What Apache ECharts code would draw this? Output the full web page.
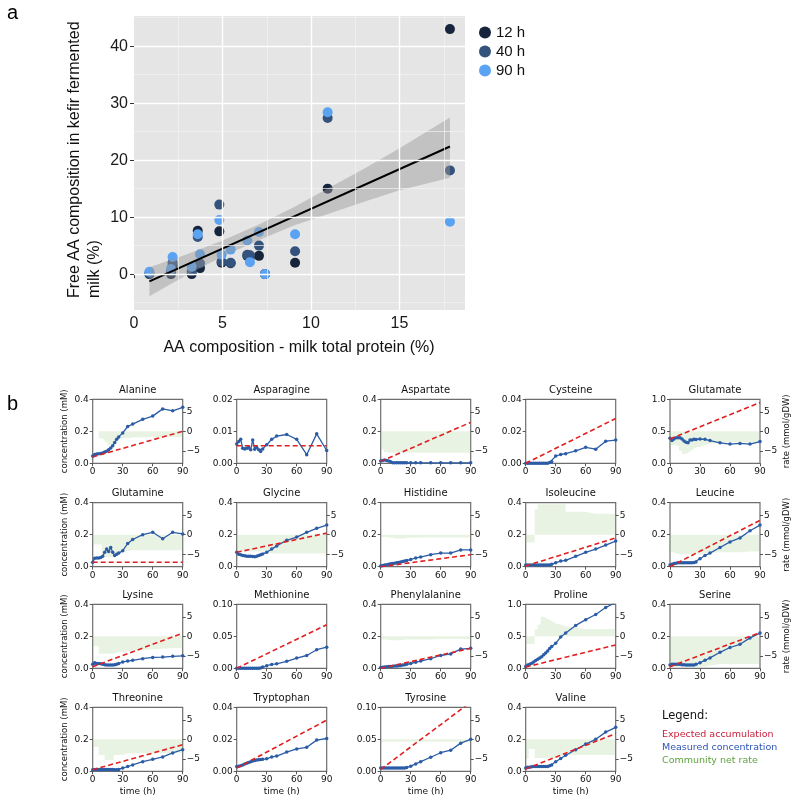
<!DOCTYPE html>
<html><head><meta charset="utf-8">
<script src="https://cdn.jsdelivr.net/npm/echarts@6/dist/echarts.min.js"></script>
<style>html,body{margin:0;padding:0;background:#fff}#c{width:800px;height:805px}</style>
</head><body><div id="c"></div>
<script>
// ---------- Panel a data ----------
const aaX   = [0.87, 2.09, 2.18, 3.26, 3.6, 3.73, 4.82, 4.95, 5.46, 6.4, 6.55, 7.06, 7.4, 9.1, 10.94, 17.85];
const y12h  = [0.0, 0.0, 1.5, 0.0, 7.6, 1.05, 7.5, 2.0, 1.9, 3.2, 3.0, 3.2, 0.0, 2.0, 15.0, 43.0];
const y40h  = [0.1, 0.5, 2.0, 0.5, 6.5, 1.9, 12.2, 2.2, 2.0, 3.4, 3.3, 5.0, 0.0, 4.0, 27.4, 18.2];
const y90h  = [0.4, 0.9, 3.0, 1.3, 7.0, 3.5, 9.5, 3.4, 4.3, 5.9, 2.1, 7.4, 0.0, 7.0, 28.4, 9.2];
const fitX  = [0.87, 17.85];
const fitY  = [-1.29, 22.4];
const bandX = [0.87, 3, 5, 7, 9, 11, 13, 15, 17.85];
const bandLow  = [-3.9, -0.1, 3.1, 5.9, 8.5, 10.6, 12.7, 14.7, 16.9];
const bandHigh = [1.2, 3.5, 5.9, 8.6, 11.7, 15.1, 18.5, 22.1, 27.5];
const annotX = [17.85, 17.85, 17.85, 10.94, 10.94, 7.4];
const annotY = [43.0, 18.2, 9.2, 28.4, 15.0, 0.0];
const annotText = ['Glu', 'Glu', 'Glu', 'Pro', 'Pro', 'Asp'];
const annotSide = ['bottom', 'bottom', 'bottom', 'top', 'top', 'bottom'];
const xTicksA = [0, 5, 10, 15];
const yTicksA = [0, 10, 20, 30, 40];
const gridMajorX = [5, 10, 15];
const gridMinorX = [2.5, 7.5, 12.5, 17.5];
const gridMajorY = [0, 10, 20, 30, 40];
const gridMinorY = [-5, 5, 15, 25, 35, 45];

// ---------- Panel b data ----------
const aminoAcids = ['Alanine','Asparagine','Aspartate','Cysteine','Glutamate','Glutamine','Glycine','Histidine','Isoleucine','Leucine','Lysine','Methionine','Phenylalanine','Proline','Serine','Threonine','Tryptophan','Tyrosine','Valine'];
const concMax = [0.4,0.02,0.4,0.04,1.0, 0.4,0.4,0.4,0.4,0.4, 0.4,0.1,0.4,1.0,0.4, 0.4,0.04,0.1,0.4];
const timeHours = [0,2,4,6,8,10,12,14,16,18,20,22,24,26,30,35,40,50,60,70,80,90];
const measured = [
 [0.045,0.055,0.058,0.06,0.062,0.065,0.07,0.075,0.085,0.095,0.11,0.13,0.15,0.165,0.19,0.23,0.245,0.275,0.295,0.34,0.328,0.35],
 [0.006,0.0068,0.0075,0.0047,0.0045,0.0047,0.005,0.0042,0.0073,0.0044,0.005,0.0042,0.0037,0.0045,0.0058,0.0075,0.0085,0.009,0.0075,0.0027,0.0092,0.004],
 [0.015,0.018,0.02,0.018,0.015,0.01,0.004,0.003,0.003,0.003,0.003,0.003,0.003,0.003,0.003,0.003,0.003,0.003,0.003,0.003,0.003,0.003],
 [0,0,0,0,0,0,0,0,0,0,0,0,0.0005,0.001,0.0045,0.0055,0.006,0.0078,0.01,0.0088,0.0138,0.0145],
 [0.39,0.355,0.38,0.40,0.40,0.40,0.38,0.35,0.33,0.32,0.365,0.365,0.375,0.37,0.38,0.375,0.355,0.32,0.30,0.31,0.30,0.34],
 [0.028,0.053,0.055,0.055,0.058,0.065,0.09,0.11,0.095,0.12,0.09,0.07,0.078,0.085,0.1,0.145,0.17,0.2,0.215,0.175,0.215,0.205],
 [0.09,0.078,0.075,0.07,0.068,0.065,0.066,0.065,0.063,0.062,0.065,0.07,0.075,0.08,0.09,0.11,0.13,0.165,0.185,0.215,0.24,0.26],
 [0.005,0.008,0.01,0.012,0.015,0.018,0.02,0.022,0.025,0.027,0.03,0.033,0.035,0.038,0.045,0.055,0.06,0.075,0.085,0.085,0.105,0.105],
 [0.01,0.01,0.01,0.01,0.01,0.01,0.01,0.01,0.01,0.01,0.01,0.01,0.01,0.015,0.025,0.035,0.04,0.065,0.09,0.11,0.135,0.16],
 [0.01,0.015,0.02,0.022,0.024,0.025,0.025,0.025,0.025,0.025,0.025,0.025,0.027,0.03,0.05,0.07,0.085,0.12,0.155,0.18,0.225,0.26],
 [0.025,0.035,0.03,0.03,0.028,0.025,0.022,0.02,0.02,0.02,0.02,0.022,0.025,0.03,0.04,0.045,0.05,0.06,0.068,0.07,0.075,0.078],
 [0,0,0,0,0,0,0,0,0,0,0,0,0.0005,0.002,0.004,0.006,0.007,0.011,0.016,0.02,0.029,0.033],
 [0.005,0.007,0.008,0.01,0.011,0.012,0.013,0.014,0.015,0.016,0.018,0.02,0.022,0.025,0.03,0.038,0.045,0.06,0.08,0.09,0.12,0.125],
 [0.03,0.05,0.065,0.08,0.1,0.12,0.14,0.16,0.18,0.21,0.24,0.27,0.31,0.34,0.39,0.49,0.55,0.67,0.76,0.84,0.95,1.03],
 [0.02,0.025,0.025,0.025,0.025,0.025,0.022,0.022,0.02,0.02,0.02,0.02,0.02,0.025,0.035,0.05,0.065,0.1,0.13,0.15,0.19,0.22],
 [0.01,0.012,0.012,0.012,0.012,0.012,0.012,0.012,0.012,0.011,0.011,0.01,0.01,0.012,0.02,0.03,0.04,0.06,0.075,0.09,0.115,0.135],
 [0.003,0.0032,0.0035,0.004,0.0045,0.005,0.0055,0.006,0.0065,0.0068,0.007,0.0072,0.0073,0.0075,0.0078,0.009,0.0095,0.012,0.014,0.015,0.0195,0.0205],
 [0.005,0.005,0.005,0.005,0.005,0.005,0.005,0.005,0.005,0.005,0.005,0.005,0.005,0.006,0.008,0.0115,0.015,0.022,0.029,0.033,0.044,0.05],
 [0.02,0.025,0.025,0.028,0.03,0.03,0.03,0.03,0.03,0.03,0.03,0.03,0.035,0.04,0.06,0.08,0.1,0.135,0.17,0.2,0.245,0.275]
];
const expectedStart = [0.04,0.0055,0.012,0,0.38, 0.028,0.09,0,0.005,0, 0.01,0,0,0.02,0.01, 0.01,0.002,0.003,0.015];
const expectedEnd   = [0.2,0.0055,0.256,0.028,0.95, 0.028,0.21,0.075,0.18,0.29, 0.22,0.068,0.125,0.365,0.223, 0.166,0.032,0.108,0.236];
const rateTimes = [0,3,6,9,12,15,18,21,24,27,30,35,40,50,60,70,80,90];
const netRate = [
 [0,0,-1.8,-2.2,-2.8,-3.5,-4.5,-3.5,-2,-1.8,-1.8,-1.6,-1.5,-1.5,-1.5,-1.5,-1.5,-1.5],
 null,
 [-4.6,-5.3,-5.5,-5.5,-5.5,-5.5,-5.5,-5.5,-5.5,-5.5,-5.5,-5.5,-5.5,-5.5,-5.5,-5.5,-5.5,-5.5],
 null,
 [-3.5,-3.5,-4,-5,-5.8,-5.5,-5,-4.5,-4,-4,-3.5,-3.2,-3,-2.8,-2.8,-2.8,-2.8,-2.8],
 [-2.5,-2.5,-2.5,-5.5,-5.8,-5.8,-5.8,-5.5,-5,-4.5,-4.2,-4,-4,-4,-4,-4,-4,-4],
 [-4.3,-4.3,-4.3,-4.3,-4.3,-4.3,-4.3,-4.3,-4.3,-4.3,-4.8,-4.8,-4.8,-4.8,-4.8,-4.8,-4.8,-4.8],
 [-0.6,-0.6,-0.8,-0.8,-1,-1,-1,-1,-0.8,-0.8,-0.8,-0.7,-0.7,-0.7,-0.7,-0.7,-0.7,-0.7],
 [-2,-2,-2,6.5,7.8,7.8,7.8,7.8,7.8,7.8,7.8,7.8,5.9,5.9,5.4,5.4,5.4,5.4],
 [-4.5,-4.8,-5,-5,-5,-5,-5,-5,-5,-5,-4.7,-4.7,-4.5,-4.5,-4.5,-4.3,-4.3,-4.3],
 [-2.5,-2.5,-4.5,-4.5,-4.5,-4.5,-4.5,-4.2,-4,-4,-3.8,-3.6,-3.5,-3.3,-3.2,-3,-3,-3],
 null,
 [-0.8,-0.8,-1,-1,-1,-1,-1,-0.8,-0.8,-0.8,-0.8,-0.8,-0.8,-0.7,-0.7,-0.7,-0.7,-0.7],
 [-2,-2,-2,1.8,3,5,4.5,4.2,3.8,3.3,3,2.5,2.2,1.9,1.9,1.9,1.9,1.9],
 [-7.5,-7.8,-7.8,-7.8,-7.8,-7.8,-7.8,-7.8,-7.8,-7.8,-7.8,-7.5,-7.1,-7.1,-7.1,-7.1,-7.1,-7.1],
 [-2,-2,-4,-4,-5.3,-5.3,-5.3,-4,-4,-4,-3.6,-3.6,-3.6,-3.6,-3.6,-3.6,-3.6,-3.6],
 null,
 [-0.6,-0.6,-0.6,-0.6,-0.6,-0.6,-0.6,-0.6,-0.6,-0.6,-0.6,-0.6,-0.6,-0.6,-0.6,-0.6,-0.6,-0.6],
 [-5,-2.5,-2.5,-4.8,-4.8,-4.8,-4.8,-4.8,-4.8,-4.8,-4.2,-4,-4,-4,-4,-4,-4,-4]
];
const rateTicks = [-5, 0, 5];
const legendLines = ['Expected accumulation', 'Measured concentration', 'Community net rate'];

// ---------- styling / layout ----------
const FA = 'Liberation Sans';
const FB = 'DejaVu Sans';
const C12 = '#16243c', C40 = '#33527c', C90 = '#5aa2f2';
const BLUE = '#2b5ca6', RED = '#e02020', GREEN = 'rgba(150,200,125,0.30)';
const colLeft = [92.7, 236.7, 380.7, 525.7, 670];
const rowTop = [399.3, 502.7, 604.3, 707.3];
const PW = 90, PH = 64;

const grids = [], xAxes = [], yAxes = [], series = [], graphics = [];

// ---- panel a ----
grids.push({left:134, top:16, width:331, height:294, show:true, backgroundColor:'#e5e5e5', borderWidth:0});
xAxes.push({gridIndex:0, type:'value', min:0, max:18.7,
  axisLine:{show:false}, splitLine:{show:false},
  axisTick:{length:4, lineStyle:{color:'#333'}, customValues:xTicksA},
  axisLabel:{fontSize:16, color:'#1a1a1a', fontFamily:FA, margin:6, customValues:xTicksA}});
yAxes.push({gridIndex:0, type:'value', min:-6.3, max:45.3,
  axisLine:{show:false}, splitLine:{show:false},
  axisTick:{length:4, lineStyle:{color:'#333'}, customValues:yTicksA},
  axisLabel:{fontSize:16, color:'#1a1a1a', fontFamily:FA, margin:6, customValues:yTicksA}});

const gl = [];
gridMinorX.forEach(v => gl.push({xAxis:v, lineStyle:{color:'#f4f4f4', width:0.7, type:'solid'}}));
gridMinorY.forEach(v => gl.push({yAxis:v, lineStyle:{color:'#f4f4f4', width:0.7, type:'solid'}}));
gridMajorX.forEach(v => gl.push({xAxis:v, lineStyle:{color:'#ffffff', width:1.4, type:'solid'}}));
gridMajorY.forEach(v => gl.push({yAxis:v, lineStyle:{color:'#ffffff', width:1.4, type:'solid'}}));
series.push({type:'line', name:'grid', xAxisIndex:0, yAxisIndex:0, data:[], z:1, silent:true,
  markLine:{silent:true, symbol:['none','none'], label:{show:false}, animation:false, data:gl}});

const mkScatter = (name, ys, col) => ({type:'scatter', name, xAxisIndex:0, yAxisIndex:0, z:2,
  symbolSize:10, itemStyle:{color:col, opacity:1}, data: aaX.map((x,i)=>[x, ys[i]])});
series.push(mkScatter('12 h', y12h, C12));
series.push(mkScatter('40 h', y40h, C40));
series.push(mkScatter('90 h', y90h, C90));

series.push({type:'custom', name:'band', xAxisIndex:0, yAxisIndex:0, z:3, silent:true,
  data: bandX.map((x,i)=>[x, bandLow[i], bandHigh[i]]), encode:{x:0, y:[1,2]},
  renderItem: (params, api) => {
    if (params.dataIndex !== 0) return null;
    const pts = [];
    for (let i = 0; i < bandX.length; i++) pts.push(api.coord([bandX[i], bandLow[i]]));
    for (let i = bandX.length - 1; i >= 0; i--) pts.push(api.coord([bandX[i], bandHigh[i]]));
    return {type:'polygon', shape:{points:pts}, style:{fill:'rgba(150,150,150,0.45)'}};
  }});
series.push({type:'line', name:'fit', xAxisIndex:0, yAxisIndex:0, z:4, silent:true, symbol:'none',
  lineStyle:{color:'#000', width:2}, data: fitX.map((x,i)=>[x, fitY[i]])});
series.push({type:'scatter', name:'annot', xAxisIndex:0, yAxisIndex:0, z:5, silent:true,
  symbolSize:10, itemStyle:{opacity:0},
  data: annotX.map((x,i)=>({value:[x, annotY[i]],
    label:{show:true, formatter:annotText[i], position:annotSide[i], distance:2,
      fontSize:15, fontFamily:FA, color:'#111'}}))});

// ---- panel b ----
const fmtRate = v => v < 0 ? '\u2212' + Math.abs(v) : String(v);
aminoAcids.forEach((name, i) => {
  const col = i % 5, row = Math.floor(i / 5);
  const g = 1 + i;
  const left = colLeft[col], top = rowTop[row];
  const M = concMax[i];
  const dec = M >= 0.2 ? 1 : 2;
  const hasRate = netRate[i] !== null;
  grids.push({left, top, width:PW, height:PH, show:true, borderColor:'#6e6e6e', borderWidth:1.2, backgroundColor:'transparent'});
  xAxes.push({gridIndex:g, type:'value', min:0, max:90, interval:30,
    axisLine:{show:false}, splitLine:{show:false},
    axisTick:{length:3, lineStyle:{color:'#555'}},
    axisLabel:{fontSize:9, color:'#111', fontFamily:FB, margin:4},
    name: row === 3 ? 'time (h)' : '', nameLocation:'middle', nameGap:16,
    nameTextStyle:{fontSize:9, color:'#111', fontFamily:FB}});
  yAxes.push({gridIndex:g, type:'value', min:0, max:M, interval:M/2,
    axisLine:{show:false}, splitLine:{show:false},
    axisTick:{length:3, lineStyle:{color:'#555'}},
    axisLabel:{fontSize:9, color:'#111', fontFamily:FB, margin:4, formatter: v => v.toFixed(dec)},
    name: col === 0 ? 'concentration (mM)' : '', nameLocation:'middle', nameRotate:90, nameGap:23.5,
    nameTextStyle:{fontSize:8.5, color:'#111', fontFamily:FB}});
  yAxes.push({gridIndex:g, type:'value', position:'right', min:-8.2, max:8.2, show:hasRate,
    axisLine:{show:false}, splitLine:{show:false},
    axisTick:{length:3, lineStyle:{color:'#555'}, customValues:rateTicks},
    axisLabel:{fontSize:9, color:'#111', fontFamily:FB, margin:4, customValues:rateTicks, formatter: fmtRate},
    name: (col === 4 && row < 3) ? 'rate (mmol/gDW)' : '', nameLocation:'middle', nameRotate:90, nameGap:22,
    nameTextStyle:{fontSize:8.5, color:'#111', fontFamily:FB}});
  const yL = 2*i + 1, yR = 2*i + 2;
  if (hasRate) {
    series.push({type:'line', xAxisIndex:g, yAxisIndex:yR, z:1, silent:true, step:'end', symbol:'none',
      lineStyle:{width:0, opacity:0}, areaStyle:{color:GREEN, origin:'auto'},
      data: rateTimes.map((t,k)=>[t, netRate[i][k]])});
  }
  series.push({type:'line', xAxisIndex:g, yAxisIndex:yL, z:3, silent:true, symbol:'circle', symbolSize:3.5,
    showAllSymbol:true, lineStyle:{color:BLUE, width:1.3}, itemStyle:{color:BLUE},
    data: timeHours.map((t,k)=>[t, measured[i][k]])});
  series.push({type:'line', xAxisIndex:g, yAxisIndex:yL, z:4, silent:true, symbol:'none',
    lineStyle:{color:RED, width:1.6, type:[5,3]},
    data: [[0, expectedStart[i]], [90, expectedEnd[i]]]});
  graphics.push({type:'text', x:left + PW/2, y:top - 9,
    style:{text:name, fill:'#111', font:'10px "DejaVu Sans"', align:'center', verticalAlign:'middle'}});
});

// ---- text graphics ----
graphics.push({type:'text', x:7, y:13, style:{text:'a', fill:'#000', font:'20px "Liberation Sans"', align:'left', verticalAlign:'middle'}});
graphics.push({type:'text', x:7, y:404, style:{text:'b', fill:'#000', font:'20px "Liberation Sans"', align:'left', verticalAlign:'middle'}});
graphics.push({type:'text', x:75, y:298, rotation:Math.PI/2,
  style:{text:'Free AA composition in kefir fermented', fill:'#111', font:'16px "Liberation Sans"', align:'left', verticalAlign:'middle'}});
graphics.push({type:'text', x:95, y:298, rotation:Math.PI/2,
  style:{text:'milk (%)', fill:'#111', font:'16px "Liberation Sans"', align:'left', verticalAlign:'middle'}});
graphics.push({type:'text', x:299, y:348,
  style:{text:'AA composition - milk total protein (%)', fill:'#111', font:'16px "Liberation Sans"', align:'center', verticalAlign:'middle'}});
graphics.push({type:'text', x:662, y:716, style:{text:'Legend:', fill:'#111', font:'11.5px "DejaVu Sans"', align:'left', verticalAlign:'middle'}});
const legCols = ['#c8203c', '#2c55b5', '#5ea33e'];
const legY = [735, 748, 761];
legendLines.forEach((t,k) => graphics.push({type:'text', x:662, y:legY[k],
  style:{text:t, fill:legCols[k], font:'9.5px "DejaVu Sans"', align:'left', verticalAlign:'middle'}}));

const chart = echarts.init(document.getElementById('c'), null, {renderer:'canvas'});
chart.setOption({
  animation:false,
  backgroundColor:'#ffffff',
  grid: grids, xAxis: xAxes, yAxis: yAxes, series,
  legend: {data:['12 h','40 h','90 h'], orient:'vertical', left:474, top:20, itemWidth:12, itemHeight:12,
    itemGap:4, icon:'circle', selectedMode:false,
    textStyle:{fontSize:15, fontFamily:FA, color:'#111'}},
  graphic: graphics
});
</script></body></html>
